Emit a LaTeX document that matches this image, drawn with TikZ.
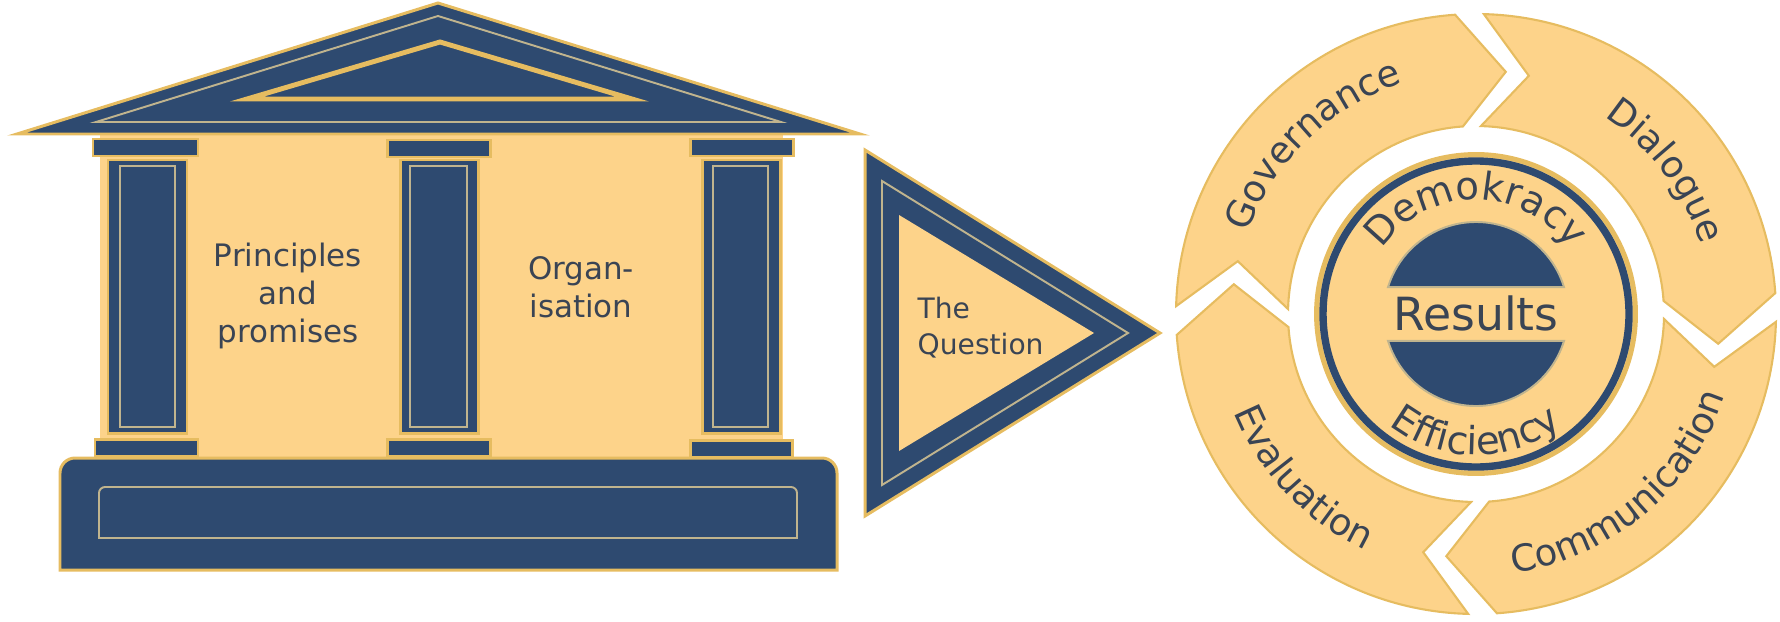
\documentclass[tikz,border=0pt]{standalone}
\usepackage{fontspec}
\setmainfont{DejaVu Sans}
\usetikzlibrary{decorations.text}

\definecolor{templeblue}{RGB}{46,74,112}
\definecolor{templegold}{RGB}{253,211,138}
\definecolor{goldedge}{RGB}{230,188,96}
\definecolor{paleline}{RGB}{192,180,142}
\definecolor{labelgrey}{RGB}{58,68,84}

\newcommand\ringfont{\fontsize{10.5}{12}\selectfont}
\newcommand\hubfont{\fontsize{11}{13}\selectfont}

\tikzset{
	navyblock/.style={fill=templeblue, draw=goldedge, line width=0.85pt},
	paleframe/.style={draw=paleline, line width=0.55pt},
	ringarrow/.style={fill=templegold, draw=goldedge, line width=0.6pt},
	templelabel/.style={text=labelgrey, font=\fontsize{8.8}{10.8}\selectfont, align=center, inner sep=0pt},
}

\begin{document}
\begin{tikzpicture}[x=0.01cm, y=0.01cm]
	\useasboundingbox (0,0) rectangle (1780,-621);
		%temple body
			\fill[templegold] (100,-133) rectangle (783,-458);
		%roof
			\draw[navyblock, line join=miter] (17,-134) -- (438,-3) -- (860,-134) -- cycle;
			\draw[paleframe] (96,-122) -- (438,-16) -- (781,-122) -- cycle;
			\draw[navyblock, line width=1.4pt] (247,-99) -- (440,-42) -- (632,-99) -- cycle;
		%left column
			\draw[navyblock] (93,-139) rectangle (198,-156);
			\draw[navyblock] (108,-160) rectangle (187,-433);
			\draw[paleframe] (120,-166) rectangle (175,-427);
			\draw[navyblock] (95,-439) rectangle (198,-456);
		%middle column
			\draw[navyblock] (387,-140) rectangle (490,-157);
			\draw[navyblock] (400,-160) rectangle (478,-433);
			\draw[paleframe] (410,-166) rectangle (467,-427);
			\draw[navyblock] (387,-439) rectangle (490,-456);
		%right column
			\draw[navyblock] (690,-139) rectangle (793,-156);
			\draw[navyblock] (702,-160) rectangle (780,-433);
			\draw[paleframe] (713,-166) rectangle (768,-427);
			\draw[navyblock] (690,-440) rectangle (792,-457);
		%base
			\draw[navyblock] (60,-570) -- (60,-473) arc[start angle=180, end angle=90, radius=15] -- (822,-458) arc[start angle=90, end angle=0, radius=15] -- (837,-570) -- cycle;
			\draw[paleframe] (99,-538) -- (99,-493) arc[start angle=180, end angle=90, radius=6] -- (791,-487) arc[start angle=90, end angle=0, radius=6] -- (797,-538) -- cycle;
		%temple labels
			\node[templelabel] (principles) at (288,-296) {Principles\\and\\promises};
			\node[templelabel] (organisation) at (581,-287) {Organ-\\isation};
		%question triangle
			\draw[navyblock, line join=miter] (865,-150) -- (1160,-333) -- (865,-516) -- cycle;
			\draw[paleframe] (882,-181) -- (1128,-333) -- (882,-485) -- cycle;
			\fill[templegold] (899,-215) -- (1094,-333) -- (899,-451) -- cycle;
			\node[templelabel, align=left, anchor=west, font=\fontsize{8}{10.3}\selectfont] (question) at (917,-328) {The\\Question};
		%ring of arrows
			\coordinate (hub) at (1476,-314);
			\draw[ringarrow] ([shift={(hub)}]178.5:300) arc[start angle=178.5, end angle=94, radius=300] -- ([shift={(hub)}]83:244) -- ([shift={(hub)}]94:188) arc[start angle=94, end angle=178.5, radius=188] -- ([shift={(hub)}]167.5:244) -- cycle;
			\draw[ringarrow] ([shift={(hub)}]88.5:300) arc[start angle=88.5, end angle=4, radius=300] -- ([shift={(hub)}]-7:244) -- ([shift={(hub)}]4:188) arc[start angle=4, end angle=88.5, radius=188] -- ([shift={(hub)}]77.5:244) -- cycle;
			\draw[ringarrow] ([shift={(hub)}]-1.5:300) arc[start angle=-1.5, end angle=-86, radius=300] -- ([shift={(hub)}]-97:244) -- ([shift={(hub)}]-86:188) arc[start angle=-86, end angle=-1.5, radius=188] -- ([shift={(hub)}]-12.5:244) -- cycle;
			\draw[ringarrow] ([shift={(hub)}]-91.5:300) arc[start angle=-91.5, end angle=-176, radius=300] -- ([shift={(hub)}]-187:244) -- ([shift={(hub)}]-176:188) arc[start angle=-176, end angle=-91.5, radius=188] -- ([shift={(hub)}]-102.5:244) -- cycle;
		%ring labels
			\path[decorate, decoration={text along path, text align=center, text color=labelgrey, text={|\ringfont|Governance}}] ([shift={(hub)}]174:242) arc[start angle=174, end angle=94, radius=242];
			\path[decorate, decoration={text along path, text align=center, text color=labelgrey, text={|\ringfont|Dialogue}}] ([shift={(hub)}]77:235) arc[start angle=77, end angle=-3, radius=235];
			\path[decorate, decoration={text along path, text align=center, text color=labelgrey, text={|\ringfont|Communication}}] ([shift={(hub)}]-95:262) arc[start angle=-95, end angle=-5, radius=262];
			\path[decorate, decoration={text along path, text align=center, text color=labelgrey, text={|\ringfont|Evaluation}}] ([shift={(hub)}]-176.5:261) arc[start angle=-176.5, end angle=-96.5, radius=261];
		%centre disc
			\draw[goldedge, line width=1.4pt, fill=templegold] (hub) circle (159.5);
			\draw[templeblue, line width=2.1pt] (hub) circle (153);
			\draw[fill=templeblue, paleframe] ([shift={(hub)}]17:92) arc[start angle=17, end angle=163, radius=92] -- cycle;
			\draw[fill=templeblue, paleframe] ([shift={(hub)}]-17:92) arc[start angle=-17, end angle=-163, radius=92] -- cycle;
			\node[anchor=base, inner sep=0pt, text=labelgrey, font=\fontsize{13}{15}\selectfont] (results) at (1476,-330) {Results};
			\path[decorate, decoration={text along path, text align=center, text color=labelgrey, text={|\hubfont|Demokracy}}] ([shift={(hub)}]170:114) arc[start angle=170, end angle=10, radius=114];
			\path[decorate, decoration={text along path, text align=center, text color=labelgrey, text={|\hubfont|Efficiency}}] ([shift={(hub)}]-170:141) arc[start angle=-170, end angle=-10, radius=141];
	\end{tikzpicture}
\end{document}
